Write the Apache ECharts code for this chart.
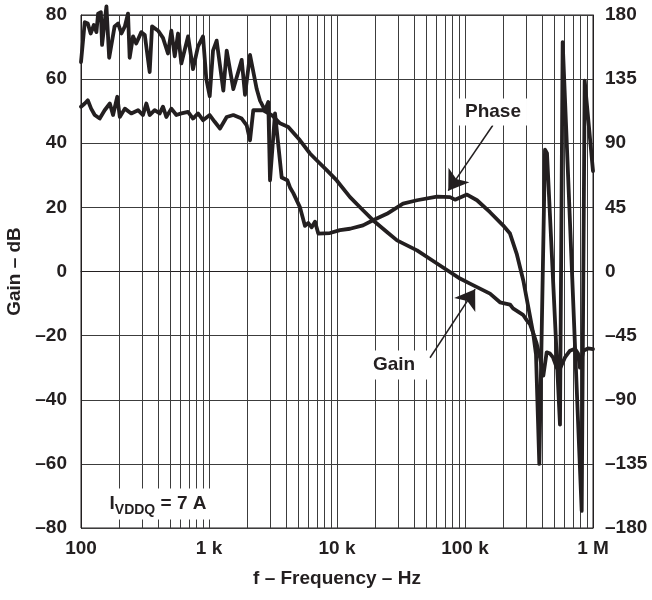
<!DOCTYPE html>
<html>
<head>
<meta charset="utf-8">
<script src="https://cdn.jsdelivr.net/npm/echarts@6/dist/echarts.min.js"></script>
<style>
  html, body { margin: 0; background: #fff; }
  #chart { width: 652px; height: 600px; }
</style>
</head>
<body>
<div id="chart"></div>
<script>
// frequency ticks
const xTickValues = [100, 1000, 10000, 100000, 1000000];
const xTickLabels = ['100', '1 k', '10 k', '100 k', '1 M'];
const minorFreqs = [200, 300, 400, 500, 600, 700, 800, 900,
  2000, 3000, 4000, 5000, 6000, 7000, 8000, 9000,
  20000, 30000, 40000, 50000, 60000, 70000, 80000, 90000,
  200000, 300000, 400000, 500000, 600000, 700000, 800000, 900000];

// gain (dB, left axis)
const gainFreq = [100, 107, 113, 120, 128, 140, 153, 168, 178, 192,
  201, 220, 247, 279, 305, 324, 344, 376, 412, 437,
  464, 508, 556, 608, 686, 750, 821, 898, 1013, 1108,
  1148, 1219, 1375, 1549, 1801, 1970, 2091, 2218, 2650, 3090,
  3587, 4165, 5140, 6152, 6936, 8310, 9950, 12640, 15960, 19100,
  24550, 29440, 42170, 60400, 91400, 109400, 156800, 187600, 224700, 237100,
  283900, 305000, 322200, 339800, 363000, 385500, 409000, 434600, 461400, 487000,
  520000, 542400, 604000, 661000, 723000, 764000, 791000, 840000, 914000, 1000000];
const gainDb = [51.4, 52.4, 53.4, 50.8, 48.8, 47.7, 50.3, 52.4, 48.8, 54.5,
  48.2, 50.8, 49.3, 50.3, 48.8, 52.4, 48.8, 50.3, 49.3, 51.4,
  48.2, 50.8, 48.8, 49.3, 49.8, 47.7, 49.3, 47.2, 48.8, 46.7,
  46.2, 44.6, 48.2, 48.8, 47.7, 45.6, 40.9, 50.3, 50.3, 48.8,
  46.2, 45.1, 40.9, 36.8, 34.7, 31.6, 28.4, 23.2, 19.1, 16,
  12.3, 9.7, 6.6, 2.5, -2.2, -3.8, -6.9, -9.6, -10.3, -11.5,
  -13.5, -15.3, -16.5, -19, -22.5, -26.8, -32.5, -25.2, -25.6, -26.8,
  -29.9, -31, -26.8, -24.7, -24.1, -25.6, -30, -24.7, -24, -24.2];

// phase (degrees, right axis)
const phaseFreq = [100, 107, 113, 119, 126, 132, 136, 143, 146, 158,
  166, 183, 195, 207, 220, 233, 240, 255, 270, 296,
  315, 344, 359, 400, 437, 478, 508, 540, 573, 608,
  686, 750, 821, 898, 953, 1013, 1075, 1148, 1294, 1375,
  1549, 1801, 1911, 2091, 2359, 2502, 2738, 2905, 2997, 3279,
  3698, 4090, 4295, 4557, 5140, 5623, 5970, 6340, 6730, 7140,
  8815, 10550, 12640, 15960, 19100, 24550, 32800, 42170, 60400, 76400,
  83600, 103700, 124100, 156800, 198200, 224700, 253500, 285400, 312300, 341700,
  358600, 380700, 421700, 437100, 552200, 579400, 816000, 861000, 1000000];
const phaseDeg = [147, 175, 174, 167, 173, 168, 181, 182, 159, 186,
  150, 172, 174, 167, 172, 181, 150, 165, 160, 168,
  166, 140, 172, 169, 164, 153, 169, 151, 167, 146,
  165, 142, 158, 165, 135, 123, 155, 162, 127, 155,
  128, 148.5, 124, 152, 128, 120, 113, 119, 64, 111,
  66, 64, 59, 55, 45, 32, 34, 31, 35, 26.6,
  27, 29, 30, 32.4, 36, 40.5, 47.7, 50, 52.6, 52.2,
  50.4, 54, 50, 41.6, 32.4, 26.6, 12.4, -6.3, -25, -44,
  -58, -135, 85.5, 83, -107.5, 161, -168, 134, 70.5];

// annotation arrows [from, to] in (Hz, dB)
const phaseArrow = [[165000, 45.6], [74000, 25.2]];
const gainArrow = [[53300, -26.9], [120000, -5.5]];

const ink = '#231f20';
const gridColor = '#3c3c3c';
const font = '"Liberation Sans", Arial, sans-serif';

const zip = (xs, ys) => xs.map((x, i) => [x, ys[i]]);
const dash = v => (v < 0 ? '\u2013' + (-v) : String(v));

const chart = echarts.init(document.getElementById('chart'));

const option = {
  animation: false,
  backgroundColor: '#fff',
  grid: {
    left: 81, right: 59, top: 15, bottom: 72,
    show: true, borderColor: ink, borderWidth: 1,
    outerBoundsMode: 'none'
  },
  xAxis: {
    type: 'log',
    logBase: 10,
    min: 100,
    max: 1000000,
    axisLine: { show: true, lineStyle: { color: ink, width: 1 } },
    axisTick: { show: false },
    splitLine: { show: true, lineStyle: { color: gridColor, width: 1 } },
    axisLabel: {
      margin: 11,
      color: ink, fontSize: 19, fontWeight: 'bold', fontFamily: font,
      formatter: function (v) {
        let best = 0;
        xTickValues.forEach((t, i) => {
          if (Math.abs(Math.log10(t) - Math.log10(v)) < Math.abs(Math.log10(xTickValues[best]) - Math.log10(v))) best = i;
        });
        return xTickLabels[best];
      }
    },
    name: 'f \u2013 Frequency \u2013 Hz',
    nameLocation: 'middle',
    nameGap: 41,
    nameTextStyle: { color: ink, fontSize: 19, fontWeight: 'bold', fontFamily: font }
  },
  yAxis: [
    {
      type: 'value',
      min: -80, max: 80, interval: 20,
      position: 'left',
      axisLine: { show: true, lineStyle: { color: ink, width: 1 } },
      axisTick: { show: false },
      splitLine: { show: true, lineStyle: { color: gridColor, width: 1 } },
      axisLabel: {
        margin: 14, color: ink, fontSize: 19, fontWeight: 'bold', fontFamily: font,
        formatter: dash
      },
      name: 'Gain \u2013 dB',
      nameLocation: 'middle',
      nameRotate: 90,
      nameGap: 52,
      nameTextStyle: { color: ink, fontSize: 19, fontWeight: 'bold', fontFamily: font }
    },
    {
      type: 'value',
      min: -180, max: 180, interval: 45,
      position: 'right',
      axisLine: { show: true, lineStyle: { color: ink, width: 1 } },
      axisTick: { show: false },
      splitLine: { show: false },
      axisLabel: {
        margin: 12, color: ink, fontSize: 19, fontWeight: 'bold', fontFamily: font,
        formatter: dash
      }
    }
  ],
  series: [
    {
      // minor decade gridlines
      type: 'line',
      data: [],
      z: 1,
      silent: true,
      markLine: {
        silent: true,
        symbol: 'none',
        label: { show: false },
        lineStyle: { type: 'solid', color: gridColor, width: 1 },
        data: minorFreqs.map(f => ({ xAxis: f }))
      }
    },
    {
      name: 'Gain',
      type: 'line',
      yAxisIndex: 0,
      data: zip(gainFreq, gainDb),
      symbol: 'none',
      z: 5,
      lineStyle: { color: ink, width: 3.8, join: 'round', cap: 'round' }
    },
    {
      name: 'Phase',
      type: 'line',
      yAxisIndex: 1,
      data: zip(phaseFreq, phaseDeg),
      symbol: 'none',
      clip: false,
      z: 5,
      lineStyle: { color: ink, width: 3.8, join: 'round', cap: 'round' }
    },
    {
      // annotation arrows
      type: 'line',
      data: [],
      z: 8,
      silent: true,
      markLine: {
        silent: true,
        symbol: ['none', 'arrow'],
        symbolSize: 19,
        itemStyle: { color: ink },
        label: { show: false },
        lineStyle: { type: 'solid', color: ink, width: 1.5 },
        data: [
          [{ coord: phaseArrow[0] }, { coord: phaseArrow[1] }],
          [{ coord: gainArrow[0] }, { coord: gainArrow[1] }]
        ]
      }
    }
  ],
  graphic: [
    {
      type: 'text', x: 493, y: 112, z: 100,
      style: {
        text: 'Phase', font: 'bold 19px ' + font, fill: ink,
        align: 'center', verticalAlign: 'middle',
        backgroundColor: '#fff', padding: [4, 6]
      }
    },
    {
      type: 'text', x: 394, y: 365, z: 100,
      style: {
        text: 'Gain', font: 'bold 19px ' + font, fill: ink,
        align: 'center', verticalAlign: 'middle',
        backgroundColor: '#fff', padding: [5, 12]
      }
    },
    {
      type: 'text', x: 158, y: 504, z: 100,
      style: {
        text: '{a|I}{b|VDDQ}{a| = 7 A}',
        fill: ink,
        align: 'center', verticalAlign: 'middle',
        backgroundColor: '#fff', padding: [6, 6],
        rich: {
          a: { font: 'bold 19px ' + font, fill: ink, verticalAlign: 'bottom' },
          b: { font: 'bold 14px ' + font, fill: ink, verticalAlign: 'bottom', padding: [0, 0, -4, 0] }
        }
      }
    }
  ]
};

chart.setOption(option);
</script>
</body>
</html>
